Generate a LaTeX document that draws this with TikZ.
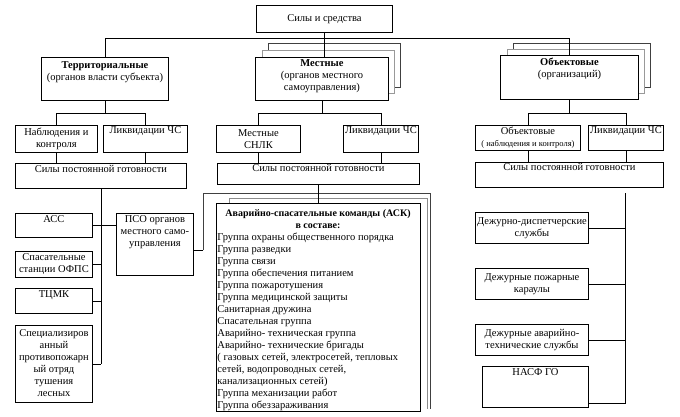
\documentclass[tikz,border=0pt]{standalone}
\usepackage{fontspec}
\setmainfont{Liberation Serif}
\tikzset{
  bx/.style={draw, fill=white, inner sep=0pt, anchor=north west},
  shA/.style={draw=black!75, fill=white},
  shB/.style={draw=black!40, fill=white},
  hd/.style={anchor=base, inner sep=0pt, font=\bfseries},
  con/.style={draw}
}
\newcommand\bx[8][]{\node[bx,#1] (#2) at (#3,#4) {\parbox[c][#6pt][#7]{#5pt}{\centering #8}};}
\begin{document}
\begin{tikzpicture}[x=1pt,y=-1pt,line width=0.9pt,font=\fontsize{10.5}{12}\selectfont]
\useasboundingbox (0,0) rectangle (680,417);
\fill[white] (0,0) rectangle (680,417);
% shadows of the stacked boxes
\draw[shA] (268,43) rectangle (400,87);
\draw[shB] (262,50) rectangle (394,93);
\draw[shA] (513,43) rectangle (650,87);
\draw[shB] (507,49) rectangle (644,93);
% level 0 and 1
\bx{top}{256}{5}{136}{27}{c}{Силы и средства}
\bx{terr}{41}{57}{127}{43}{t}{\vspace*{4pt}\textbf{Территориальные}\\(органов власти субъекта)}
\bx{mest}{255}{57}{133}{43}{t}{\vspace*{2pt}\textbf{Местные}\\(органов местного\\самоуправления)}
\bx{obj}{500}{55}{138}{44}{t}{\vspace*{3pt}\textbf{Объектовые}\\(организаций)}
% level 2
\bx{nab}{15}{125}{82}{27}{c}{Наблюдения и\\контроля}
\bx{likvL}{103}{125}{84}{27}{t}{\vspace*{1pt}Ликвидации ЧС}
\bx{snlk}{216}{125}{84}{27}{c}{Местные\\СНЛК}
\bx{likvM}{343}{125}{75}{27}{t}{\vspace*{1pt}Ликвидации ЧС}
\bx{objN}{475}{125}{105}{25}{c}{Объектовые\\{\fontsize{8.5}{10}\selectfont( наблюдения и контроля)}}
\bx{likvR}{588}{125}{75}{25}{t}{\vspace*{1pt}Ликвидации ЧС}
% level 3
\bx{spgL}{15}{163}{171}{25}{t}{\vspace*{2pt}Силы постоянной готовности}
\bx{spgM}{217}{163}{202}{21}{t}{\vspace*{1pt}Силы постоянной готовности}
\bx{spgR}{475}{162}{188}{25}{t}{\vspace*{1pt}Силы постоянной готовности}
% left children
\bx{acc}{15}{213}{77}{24}{t}{\vspace*{2pt}АСС}
\bx{ofps}{15}{251}{77}{26}{c}{Спасательные\\станции ОФПС}
\bx{tcmk}{15}{288}{77}{25}{t}{\vspace*{2pt}ТЦМК}
\bx{spec}{15}{325}{77}{77}{t}{\vspace*{4pt}Специализиров\\анный\\противопожарн\\ый отряд\\тушения\\лесных}
\bx{pso}{116}{213}{77}{62}{t}{\vspace*{2pt}ПСО органов\\местного само-\\управления}
% ASK stack
\coordinate (askL) at (203,250);
\draw[draw=black!75] (askL) -- (203,193) -- (430,193) -- (430,409);
\draw[draw=black!45] (229,203) -- (229,198) -- (427,198) -- (427,409);
\node[bx] (ask) at (216,203) {\parbox[c][208pt][t]{204pt}{\vspace*{30pt}%
\raggedright\leftskip=1pt
Группа охраны общественного порядка\\
Группа разведки\\
Группа связи\\
Группа обеспечения питанием\\
Группа пожаротушения\\
Группа медицинской защиты\\
Санитарная дружина\\
Спасательная группа\\
Аварийно- техническая группа\\
Аварийно- технические бригады\\
( газовых сетей, электросетей, тепловых\\
сетей, водопроводных сетей,\\
канализационных сетей)\\
Группа механизации работ\\
Группа обеззараживания\par}};
\node[hd] (askh1) at (318,216) {Аварийно-спасательные команды (АСК)};
\node[hd] (askh2) at (318,228) {в составе:};
% right children
\bx{dds}{475}{212}{113}{31}{c}{Дежурно-диспетчерские\\службы}
\bx{dpk}{475}{268}{113}{31}{c}{Дежурные пожарные\\караулы}
\bx{dat}{475}{324}{113}{31}{c}{Дежурные аварийно-\\технические службы}
\bx{nasf}{482}{366}{106}{41}{t}{\vspace*{2pt}НАСФ ГО}
% connectors
\coordinate (bus0) at (0,38);
\coordinate (bus1) at (0,113);
\draw[con] (top.south) -- (top.south |- mest.north);
\draw[con] (terr.north) -- (terr.north |- bus0) -- (obj.north |- bus0) -- (obj.north);
% territorial branch
\draw[con] (terr.south) -- (terr.south |- bus1);
\draw[con] (nab.north) -- (nab.north |- bus1) -- (likvL.north |- bus1) -- (likvL.north);
\draw[con] (nab.south) -- (nab.south |- spgL.north);
\draw[con] (likvL.south) -- (likvL.south |- spgL.north);
\draw[con] (spgL.south) -- (spgL.south |- spec.east);
\draw[con] (acc.east) -- (acc.east -| pso.west);
\draw[con] (ofps.east) -- (ofps.east -| spgL.south);
\draw[con] (tcmk.east) -- (tcmk.east -| spgL.south);
\draw[con] (spec.east) -- (spec.east -| spgL.south);
\draw[con] (askL) -- (askL -| pso.east);
% local branch
\draw[con] (mest.south) -- (mest.south |- bus1);
\draw[con] (snlk.north) -- (snlk.north |- bus1) -- (likvM.north |- bus1) -- (likvM.north);
\draw[con] (snlk.south) -- (snlk.south |- spgM.north);
\draw[con] (likvM.south) -- (likvM.south |- spgM.north);
\draw[con] (spgM.south) -- (spgM.south |- ask.north);
% object branch
\draw[con] (obj.south) -- (obj.south |- bus1);
\draw[con] (objN.north) -- (objN.north |- bus1) -- (likvR.north |- bus1) -- (likvR.north);
\draw[con] (objN.south) -- (objN.south |- spgR.north);
\draw[con] (likvR.south) -- (likvR.south |- spgR.north);
\coordinate (rtop) at (625,193);
\coordinate (rbot) at (625,403);
\draw[con] (rtop) -- (rbot) -- (rbot -| nasf.east);
\draw[con] (dds.east) -- (dds.east -| rtop);
\draw[con] (dpk.east) -- (dpk.east -| rtop);
\draw[con] (dat.east) -- (dat.east -| rtop);
\end{tikzpicture}
\end{document}
